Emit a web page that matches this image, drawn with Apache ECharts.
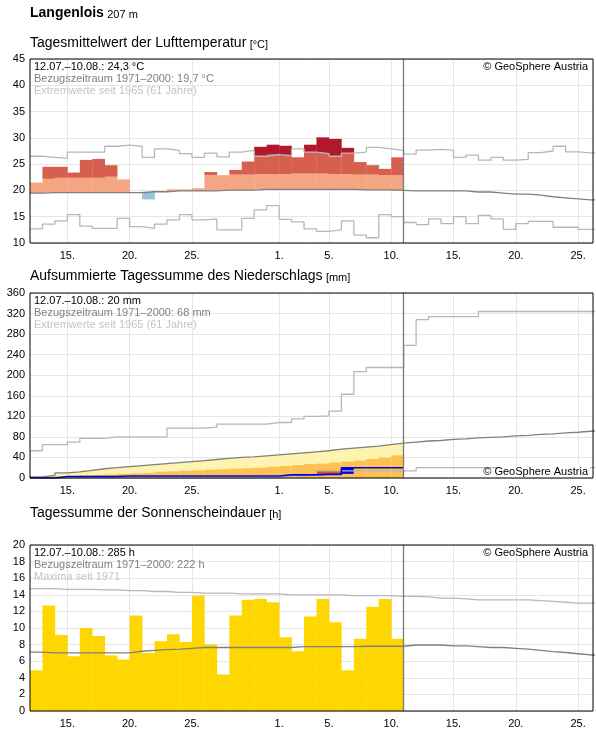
<!DOCTYPE html>
<html><head><meta charset="utf-8">
<script src="https://cdn.jsdelivr.net/npm/echarts@6/dist/echarts.min.js"></script>
<style>html,body{margin:0;padding:0;background:#fff}#c{width:596px;height:729px}</style>
</head><body><div id="c"></div>
<script>
// x value: day-of-period, Jul 12 = 12, Aug 1 = 32 ... one unit per day
const startDay = 12;
const tickValues = [15,20,25,32,36,41,46,51,56];
const tickLabels = ['15.','20.','25.','1.','5.','10.','15.','20.','25.'];
const nowLine = 42;

// Temperature (°C), 30 observed days Jul 12 – Aug 10
const tempMean = [21.5,24.5,24.5,23.4,25.8,26.0,24.8,22.1,19.6,18.3,19.9,20.2,20.2,20.4,23.5,22.9,23.9,25.5,28.3,28.7,28.5,26.3,28.7,30.1,29.8,28.1,25.4,24.8,24.1,26.3];
const tempUpperBand = [22.0,22.2,22.4,22.4,22.4,22.4,22.6,22.6,22.6,22.7,22.7,22.8,22.8,22.9,22.9,22.9,23.0,23.0,23.1,23.1,23.1,23.2,23.2,23.2,23.1,23.1,23.0,23.0,22.9,22.9];
const tempNormal = [19.5,19.6,19.6,19.6,19.6,19.6,19.6,19.6,19.6,19.75,19.75,19.9,19.9,19.9,19.9,20.05,20.05,20.05,20.2,20.2,20.2,20.2,20.2,20.2,20.2,20.2,20.1,20.1,20.1,20.0,
  19.9,19.9,19.9,19.9,19.9,19.7,19.7,19.5,19.3,19.3,19.1,18.8,18.6,18.4,18.2,18.2];
const tempMax = [26.5,26.3,26.1,27.3,27.3,27.3,28.4,28.6,28.4,26.3,27.9,27.6,27.0,26.3,27.1,26.4,27.3,27.6,26.5,26.8,26.6,27.9,27.3,27.0,26.5,27.1,27.3,28.2,27.9,27.6,
  26.9,27.65,27.8,27.6,26.3,26.7,25.75,26.3,25.75,25.9,27.2,27.5,28.4,27.35,27.15,27.15];
const tempMin = [12.7,13.6,14.2,15.4,13.2,12.8,12.8,14.7,13.1,12.8,13.6,14.4,15.4,14.4,14.6,12.5,12.5,14.7,16.3,17.1,14.5,14.0,12.7,12.2,12.5,14.2,11.5,11.0,15.4,15.0,
  13.9,13.5,14.6,13.7,15.0,13.7,15.25,14.6,12.6,13.7,14.1,14.1,13.0,13.0,12.6,12.6];

// Precipitation cumulative (mm)
const precipActual = [0,0,3,3,3,3,3,4,4,4,4,4,4,4,4,4,4,4,4,4,6,6,6,7,7,20,20,20,20,20];
const precipLowBand = [0,3,3,4,5,6,7,8,9,10,12,13,14,15,16,17,18,19,20,22,23,25,27,28,30,32,34,37,40,44];
const precipNormal = [2,5,10,12,15,18,20,22,24,26,28,30,32,34,36,38,40,41,43,45,47,49,51,53,56,58,60,62,65,68,
  70,72,73,75,76,78,79,80,82,83,85,86,88,89,91,92];
const precipMax = [53,65,65,70,77,77,80,80,80,80,80,97,97,97,99,105,105,105,105,108,108,115,120,121,130,163,207,215,215,215,
  258,308,314,314,314,314,324,324,324,324,324,324,324,324,324,324];
const precipMin = [0,0,0,0,0,0,0,0,0,0,0,0,0,0,0,0,0,0.5,0.5,0.5,4,4,7,14,14,14,14,14,14,14,
  14,20,20,20,20,20,20,20,20,20,20,20,20,20,20,20];

// Sunshine (h)
const sunActual = [4.9,12.7,9.15,6.6,10.0,9.05,6.7,6.2,11.5,7.0,8.4,9.25,8.3,13.9,8.0,4.4,11.5,13.4,13.5,13.1,8.9,7.2,11.4,13.5,10.7,4.9,8.7,12.55,13.5,8.7];
const sunNormal = [7.1,7.0,7.0,7.0,7.0,7.0,7.0,7.0,7.2,7.3,7.4,7.45,7.55,7.65,7.65,7.65,7.65,7.65,7.65,7.65,7.65,7.75,7.75,7.75,7.75,7.75,7.8,7.8,7.8,7.8,
  7.95,7.95,7.95,7.85,7.85,7.75,7.65,7.65,7.55,7.45,7.3,7.15,7.05,6.9,6.75,6.75];
const sunMax = [14.75,14.75,14.65,14.65,14.65,14.6,14.6,14.5,14.5,14.4,14.4,14.3,14.3,14.2,14.2,14.2,14.1,14.1,14.1,14.1,14.0,14.0,14.0,14.0,14.0,13.9,13.9,13.9,13.9,13.8,
  13.8,13.75,13.6,13.6,13.5,13.4,13.4,13.4,13.4,13.4,13.3,13.2,13.1,13.0,13.0,13.0];

const FONT = '"Liberation Sans", Arial, sans-serif';
const C = {salmon:'#f4a582', red:'#d6604d', dark:'#b2182b', blue:'#92c5de',
  yellow:'#fff3b0', orange:'#fdc150', pblue:'#0000ee', pred:'#d6501c', sun:'#ffd700',
  normal:'#808080', ext:'#b8b8b8', grid:'#e6e6e6'};

function steps(arr){ const d = arr.map((v,i)=>[startDay+i, v]); d.push([startDay+arr.length, arr[arr.length-1]]); return d; }

// rectangles [x0,x1,y0,y1,color]
const tempRects = [];
tempMean.forEach((t,i)=>{
  const x0=startDay+i, x1=x0+1, n=tempNormal[i], p=tempUpperBand[i], e=tempMax[i];
  if (t < n) { tempRects.push([x0,x1,t,n,C.blue]); return; }
  tempRects.push([x0,x1,n,Math.min(t,p),C.salmon]);
  if (t > p) tempRects.push([x0,x1,p,Math.min(t,e),C.red]);
  if (t > e) tempRects.push([x0,x1,e,t,C.dark]);
});
const precipRects = [];
precipActual.forEach((a,i)=>{
  const x0=startDay+i, x1=x0+1;
  precipRects.push([x0,x1,0,precipNormal[i],C.yellow]);
  precipRects.push([x0,x1,0,precipLowBand[i],C.orange]);
  if (a < precipMin[i]) precipRects.push([x0,x1,a,precipMin[i],C.pred]);
  const prev = i>0 ? precipActual[i-1] : 0;
  if (a-prev > 5) precipRects.push([x0,x1,prev+1,a,C.pblue]);
});
const sunRects = sunActual.map((s,i)=>[startDay+i,startDay+i+1,0,s,C.sun]);

function rectSeries(idx, data){
  return {type:'custom', xAxisIndex:idx, yAxisIndex:idx, data, z:5, silent:true,
    encode:{x:[0,1], y:[2,3]},
    renderItem:(params, api)=>{
      const a = api.coord([api.value(0), api.value(2)]);
      const b = api.coord([api.value(1), api.value(3)]);
      return {type:'rect', shape:{x:a[0], y:b[1], width:b[0]-a[0]+0.3, height:a[1]-b[1]},
        style:{fill: data[params.dataIndex][4]}};
    }};
}
function lineSeries(idx, arr, color, width){
  return {type:'line', xAxisIndex:idx, yAxisIndex:idx, data:steps(arr), step:'end', symbol:'none', silent:true,
    lineStyle:{color, width:width||1.3}, z:6};
}
function gridSeries(idx){
  return {type:'line', xAxisIndex:idx, yAxisIndex:idx, data:[], silent:true, z:1, zlevel:0,
    markLine:{silent:true, symbol:'none', label:{show:false}, animation:false, z:1,
      data: tickValues.map(v=>({xAxis:v})), lineStyle:{color:C.grid, width:1, type:'solid'}}};
}
function nowSeries(idx){
  return {type:'line', xAxisIndex:idx, yAxisIndex:idx, data:[], silent:true, z:10,
    markLine:{silent:true, symbol:'none', label:{show:false}, animation:false, z:10,
      data:[{xAxis:nowLine}], lineStyle:{color:'#7a7a7a', width:1.3, type:'solid'}}};
}

const grids = [
  {left:30, right:3, top:59, height:184},
  {left:30, right:3, top:293, height:185},
  {left:30, right:3, top:545, height:167}
].map(g=>Object.assign(g,{show:true, borderColor:'#000', borderWidth:1, backgroundColor:'transparent', z:20}));

const xAxes = [0,1,2].map(i=>({type:'value', gridIndex:i, min:12, max:57.2,
  axisLine:{show:false}, axisTick:{show:false}, splitLine:{show:false},
  axisLabel:{customValues:tickValues, formatter:v=>tickLabels[tickValues.indexOf(v)], color:'#000', fontSize:11, fontFamily:FONT, margin:7}}));
const yCfg = [[10,45,5],[0,360,40],[0,20,2]];
const yAxes = yCfg.map((c,i)=>({type:'value', gridIndex:i, min:c[0], max:c[1], interval:c[2],
  axisLine:{show:false}, axisTick:{show:false},
  splitLine:{show:true, lineStyle:{color:C.grid, width:1}},
  axisLabel:{color:'#000', fontSize:11, fontFamily:FONT, margin:5}}));

const series = [
  gridSeries(0), gridSeries(1), gridSeries(2),
  rectSeries(0, tempRects),
  lineSeries(0, tempMax, C.ext), lineSeries(0, tempMin, C.ext), lineSeries(0, tempNormal, C.normal),
  rectSeries(1, precipRects),
  lineSeries(1, precipMax, C.ext), lineSeries(1, precipMin, C.ext),
  lineSeries(1, precipNormal, C.normal),
  {type:'line', xAxisIndex:1, yAxisIndex:1, data:steps(precipActual), step:'end', symbol:'none', silent:true, lineStyle:{color:C.pblue, width:1.6}, z:7},
  rectSeries(2, sunRects),
  lineSeries(2, sunMax, C.ext), lineSeries(2, sunNormal, C.normal),
  nowSeries(0), nowSeries(1), nowSeries(2)
];

function t(x,y,text,opt){ return Object.assign({type:'text', x, y, z:100, style:Object.assign({text, font:'11px '+FONT, fill:'#000'}, opt||{})}); }
const graphics = [
  {type:'text', left:30, top:6, style:{text:'{b|Langenlois} {s|207 m}', rich:{b:{font:'bold 14px '+FONT, fill:'#000'}, s:{font:'11px '+FONT, fill:'#000', padding:[3,0,0,0]}}}},
  {type:'text', left:30, top:36, style:{text:'{b|Tagesmittelwert der Lufttemperatur} {s|[°C]}', rich:{b:{font:'14px '+FONT, fill:'#000'}, s:{font:'11px '+FONT, fill:'#000', padding:[3,0,0,0]}}}},
  {type:'text', left:30, top:269, style:{text:'{b|Aufsummierte Tagessumme des Niederschlags} {s|[mm]}', rich:{b:{font:'14px '+FONT, fill:'#000'}, s:{font:'11px '+FONT, fill:'#000', padding:[3,0,0,0]}}}},
  {type:'text', left:30, top:506, style:{text:'{b|Tagessumme der Sonnenscheindauer} {s|[h]}', rich:{b:{font:'14px '+FONT, fill:'#000'}, s:{font:'11px '+FONT, fill:'#000', padding:[3,0,0,0]}}}},
  t(34,61,'12.07.–10.08.: 24,3 °C'), t(34,73,'Bezugszeitraum 1971–2000: 19,7 °C',{fill:'#808080'}), t(34,85,'Extremwerte seit 1965 (61 Jahre)',{fill:'#c4c4c4'}),
  t(588,61,'© GeoSphere Austria',{align:'right'}),
  t(34,295,'12.07.–10.08.: 20 mm'), t(34,307,'Bezugszeitraum 1971–2000: 68 mm',{fill:'#808080'}), t(34,319,'Extremwerte seit 1965 (61 Jahre)',{fill:'#c4c4c4'}),
  {type:'rect', shape:{x:500, y:465, width:90, height:12}, style:{fill:'#fff'}, z:99},
  t(588,466,'© GeoSphere Austria',{align:'right'}),
  t(34,547,'12.07.–10.08.: 285 h'), t(34,559,'Bezugszeitraum 1971–2000: 222 h',{fill:'#808080'}), t(34,571,'Maxima seit 1971',{fill:'#c4c4c4'}),
  t(588,547,'© GeoSphere Austria',{align:'right'})
];

const chart = echarts.init(document.getElementById('c'), null, {renderer:'canvas'});
chart.setOption({animation:false, grid:grids, xAxis:xAxes, yAxis:yAxes, series, graphic:graphics});
</script></body></html>
